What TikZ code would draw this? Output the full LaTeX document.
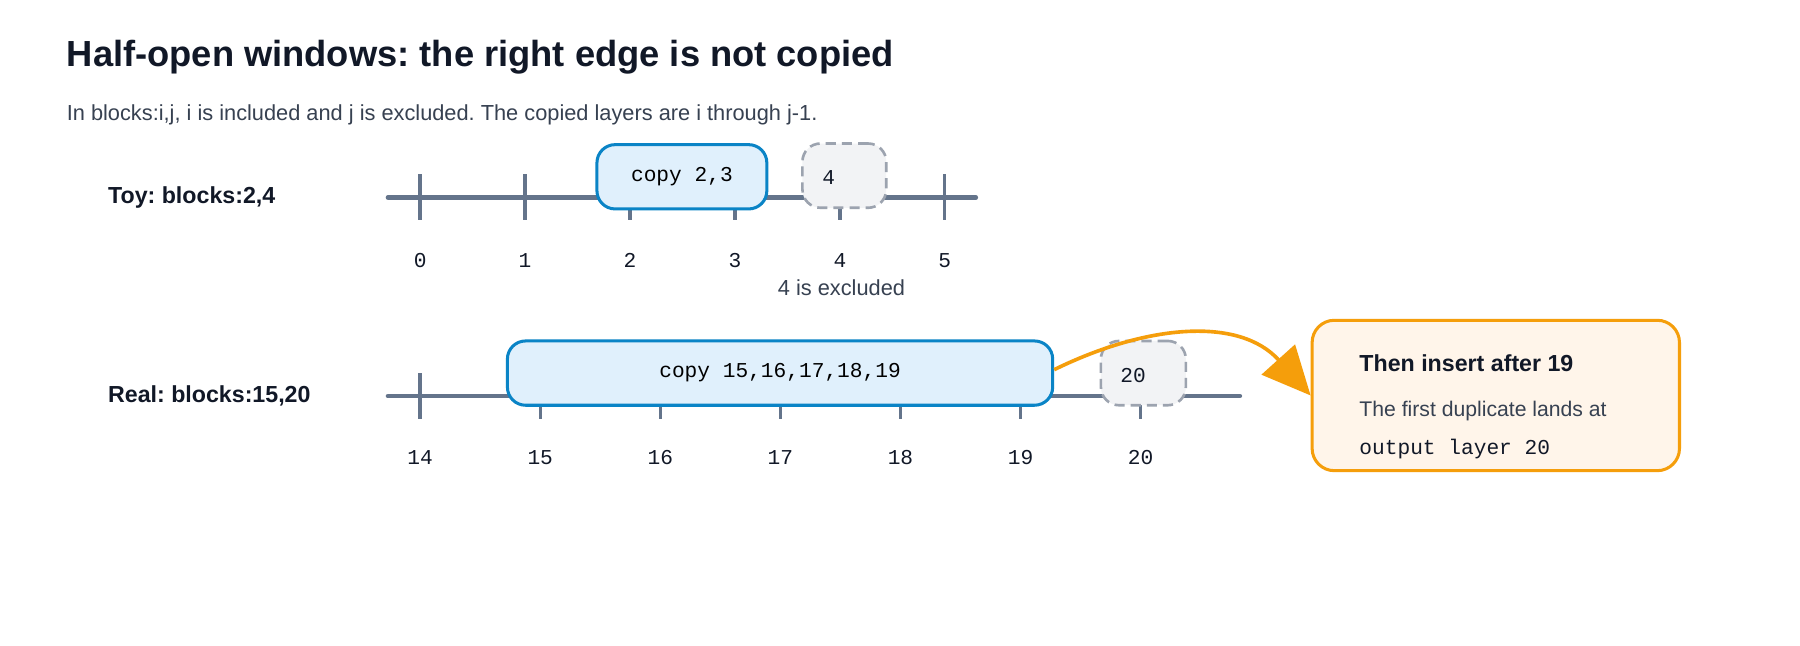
\documentclass[tikz,border=0pt]{standalone}
\usepackage{fontspec}
\setmainfont{Liberation Sans}
\setmonofont{Liberation Mono}
\usetikzlibrary{arrows.meta}
\frenchspacing
\definecolor{axisgray}{HTML}{64748B}
\definecolor{copyblue}{HTML}{0A84C6}
\definecolor{copyfill}{HTML}{E0F0FC}
\definecolor{exgray}{HTML}{9CA3AF}
\definecolor{exfill}{HTML}{F2F3F5}
\definecolor{noteorange}{HTML}{F59E0B}
\definecolor{notefill}{HTML}{FFF5EA}
\definecolor{ink}{HTML}{111827}
\definecolor{subink}{HTML}{374151}
\tikzset{
  axis/.style={axisgray, line width=2.3pt, line cap=round},
  tick/.style={axisgray, line width=1.7pt},
  copybox/.style={draw=copyblue, fill=copyfill, line width=1.5pt, rounded corners=9pt, font=\ttfamily\fontsize{10.5}{12}\selectfont},
  exbox/.style={draw=exgray, fill=exfill, line width=1.3pt, dash pattern=on 5pt off 3pt, rounded corners=9pt},
  num/.style={font=\ttfamily\fontsize{10.5}{12}\selectfont, text=ink},
  rowlabel/.style={anchor=west, font=\bfseries\fontsize{11.5}{13}\selectfont, text=ink},
}
\begin{document}
\begin{tikzpicture}[x=0.02cm, y=-0.02cm]
\useasboundingbox [fill=white] (0,0) rectangle (1568,562);

\node [anchor=west, font=\bfseries\fontsize{18}{21}\selectfont, text=ink] (title) at (52,50) {Half-open windows: the right edge is not copied};
\node [anchor=west, font=\fontsize{10.8}{13}\selectfont, text=subink] (sub) at (52,100) {In blocks:i,j, i is included and j is excluded. The copied layers are i through j-1.};

% toy row
\node [rowlabel] (toy) at (88,172) {Toy: blocks:2,4};
\draw [axis] (338,172) -- (850,172);
\foreach \i in {0,...,5} {
  \draw [tick] ({366+91.4*\i},152) -- ({366+91.4*\i},192);
  \node [num, anchor=base] (t\i) at ({366+91.4*\i},233) {\i};
}
\node [copybox, minimum width=148*0.02cm, minimum height=56*0.02cm] (copytoy) at (594,154) {copy 2,3};
\node [exbox, minimum width=73*0.02cm, minimum height=56*0.02cm] (extoy) at (735.5,153) {};
\node [num, anchor=center] (extoytxt) at (722,155) {4};
\node [font=\fontsize{10.8}{13}\selectfont, text=subink] (exnote) at (733,251) {4 is excluded};

% real row
\node [rowlabel] (real) at (88,345) {Real: blocks:15,20};
\draw [axis] (338,345) -- (1080,345);
\foreach \i [count=\k from 0] in {14,...,20} {
  \draw [tick] ({366+104.6*\k},325) -- ({366+104.6*\k},365);
  \node [num, anchor=base] (r\i) at ({366+104.6*\k},405) {\i};
}
\node [copybox, minimum width=475*0.02cm, minimum height=56*0.02cm] (copyreal) at (679.5,325) {copy 15,16,17,18,19};
\node [exbox, minimum width=74*0.02cm, minimum height=56*0.02cm] (exreal) at (996,325) {};
\node [num] (exrealtxt) at (987,327) {20};

% callout
\node [draw=noteorange, fill=notefill, line width=1.5pt, rounded corners=11pt,
  minimum width=320*0.02cm, minimum height=131*0.02cm] (note) at (1303,344.5) {};
\node [anchor=west, font=\bfseries\fontsize{11.5}{13}\selectfont, text=ink] (notetitle) at (1178,316) {Then insert after 19};
\node [anchor=west, font=\fontsize{10.5}{13}\selectfont, text=subink] (notebody) at (1178,358) {The first duplicate lands at};
\node [anchor=west, font=\ttfamily\fontsize{10.5}{12}\selectfont, text=ink] (notecode) at (1178,391) {output layer 20};

\draw [noteorange, line width=1.8pt, -{Triangle[length=24pt, width=22pt]}]
  (copyreal.east) ++(0,-3) .. controls (1000,282) and (1080,276) .. (note.west);
\end{tikzpicture}
\end{document}
